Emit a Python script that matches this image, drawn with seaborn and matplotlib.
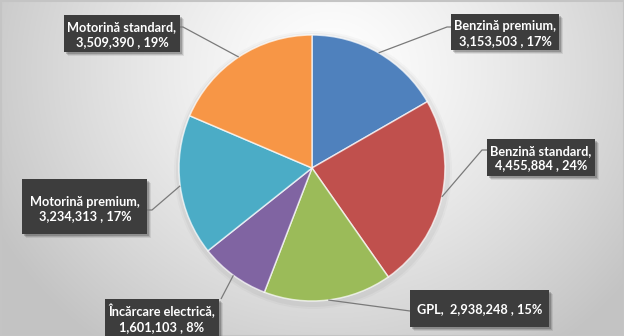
import numpy as np
import matplotlib
matplotlib.use("Agg")
import matplotlib.pyplot as plt
from matplotlib.patches import Rectangle, Circle
import seaborn as sns

# Fuel sales by product
categories = ["Benzină premium", "Benzină standard", "GPL",
              "Încărcare electrică", "Motorină premium", "Motorină standard"]
volumes = [3153503, 4455884, 2938248, 1601103, 3234313, 3509390]
shares = [17, 24, 15, 8, 17, 19]
slice_colors = ["#4F81BD", "#C0504D", "#9BBB59", "#8064A2", "#4BACC6", "#F79646"]

sns.set_theme(style="white")
plt.rcParams["font.family"] = ["Lato", "DejaVu Sans"]
palette = sns.color_palette(slice_colors)

W, H = 624, 336
CX, CY, R = 312, 168, 133

# label boxes in pixel space: (left, top, right, bottom), text centre, leader end
label_layout = [
    ((451, 14, 559, 50), (505, 33.5), [(447, 27), (451, 27)]),
    ((487, 139, 595, 176), (541, 158), [(482, 150), (487, 150)]),
    ((410, 290, 549, 327), (480, 309), [(410, 311)]),
    ((105, 299, 219, 345), (162, 318.5), [(221, 299)]),
    ((22, 179, 147, 234), (85, 209), [(152, 210), (147, 210)]),
    ((64, 15, 180, 52), (122, 34.5), [(183, 27), (180, 27)]),
]

fig = plt.figure(figsize=(W / 100, H / 100), dpi=100)

# soft grey backdrop, brightest just above the pie
bg = fig.add_axes([0, 0, 1, 1], zorder=0)
yy, xx = np.mgrid[0:H, 0:W]
r = np.sqrt(((xx - 330) / 330.0) ** 2 + ((yy - 70) / 300.0) ** 2)
level = np.clip(255 - 50 * r ** 1.3, 195, 255) / 255.0
bg.imshow(np.dstack([level, level, level]), extent=(0, W, H, 0), aspect="auto")
bg.set_xlim(0, W)
bg.set_ylim(H, 0)
bg.axis("off")
bg.add_patch(Rectangle((0.5, 0.5), W - 1, H - 1, fill=False,
                       edgecolor="#c4c4c4", linewidth=1.5))

# very faint shadow behind the pie
for k, a in zip([6, 4], [0.025, 0.035]):
    bg.add_patch(Circle((CX + 1, CY + 2), R + k, color="black", alpha=a, lw=0))

ax = fig.add_axes([(CX - R) / W, (H - CY - R) / H, 2 * R / W, 2 * R / H], zorder=1)
wedges, _ = ax.pie(volumes, colors=palette, startangle=90, counterclock=False,
                   radius=1, wedgeprops=dict(edgecolor=(1, 1, 1, 0.7), linewidth=1.1))
ax.set_xlim(-1, 1)
ax.set_ylim(-1, 1)
ax.axis("off")

ov = fig.add_axes([0, 0, 1, 1], zorder=2)
ov.set_xlim(0, W)
ov.set_ylim(H, 0)
ov.axis("off")

for cat, vol, pct, w, (box, tc, leader) in zip(categories, volumes, shares,
                                                 wedges, label_layout):
    mid = np.deg2rad((w.theta1 + w.theta2) / 2)
    sx, sy = CX + R * np.cos(mid), CY - R * np.sin(mid)
    pts = [(sx, sy)] + leader
    ov.plot([p[0] for p in pts], [p[1] for p in pts], color="#7a7a7a", lw=0.9,
            solid_capstyle="butt")

    x0, y0, x1, y1 = box
    for off, a in [(4, 0.08), (3, 0.12), (2, 0.18)]:
        ov.add_patch(Rectangle((x0 + off, y0 + off), x1 - x0, y1 - y0,
                               facecolor="black", alpha=a, lw=0))
    ov.add_patch(Rectangle((x0, y0), x1 - x0, y1 - y0, facecolor="#3d3d3d", lw=0))

    if cat == "GPL":
        txt = f"{cat},  {vol:,} , {pct}%"
    else:
        txt = f"{cat},\n{vol:,} , {pct}%"
    ov.text(tc[0], tc[1], txt, color="white", fontsize=9.2, fontweight="bold",
            ha="center", va="center", linespacing=1.25)

fig.savefig("out.png", dpi=100)
